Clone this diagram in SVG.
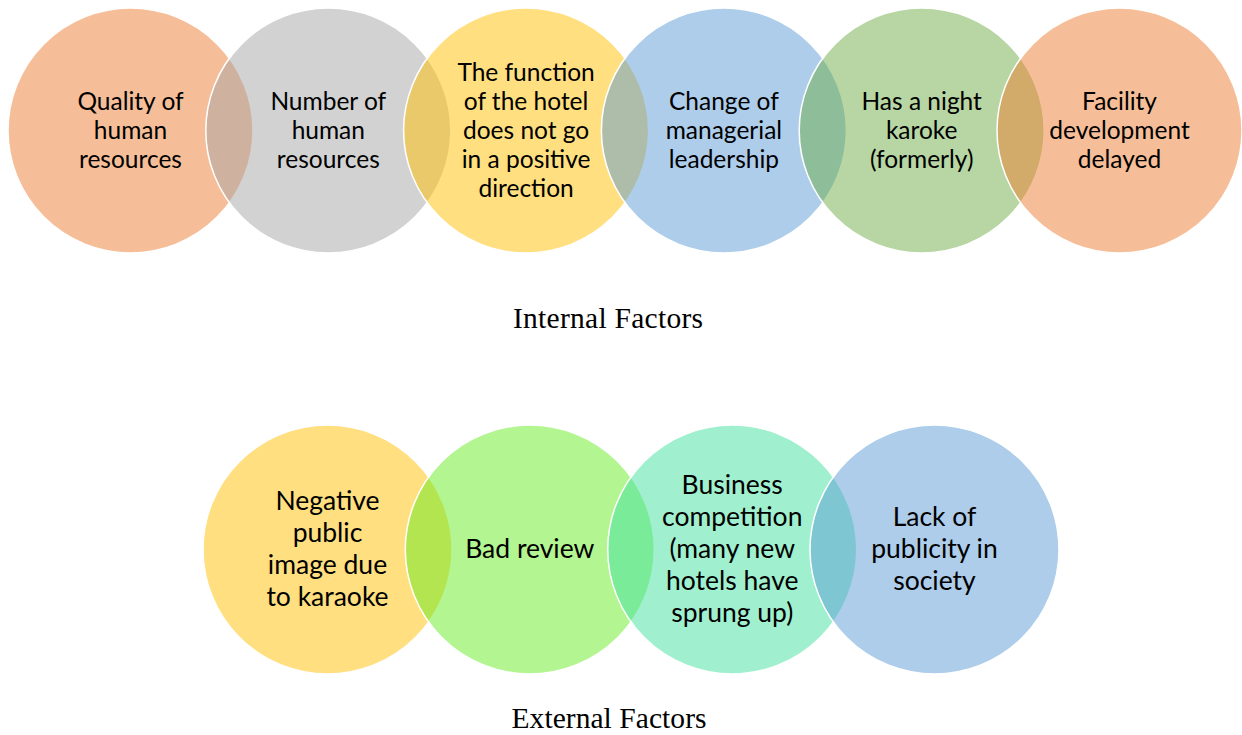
<svg xmlns="http://www.w3.org/2000/svg" width="1242" height="735" viewBox="0 0 1242 735">
  <style>
    .c { stroke: #FFFFFF; stroke-width: 1.5; fill-opacity: 0.5; }
    .t { font-family: Lato, "Liberation Sans", sans-serif; fill: #000000; text-anchor: middle; }
    .top { font-size: 24.5px; }
    .bot { font-size: 26.5px; }
    .cap { font-family: "Liberation Serif", "DejaVu Serif", serif; font-size: 29.5px; fill: #000000; text-anchor: middle; }
  </style>
  <rect width="1242" height="735" fill="#FFFFFF"/>

  <!-- Internal factors: overlapping row -->
  <g id="internal">
    <g id="quality">
      <circle class="c" cx="130.5" cy="130.5" r="122.5" fill="#ED7D31"/>
      <text class="t top"><tspan x="130.5" y="109.5">Quality of</tspan><tspan x="130.5" y="138.5">human</tspan><tspan x="130.5" y="167.5">resources</tspan></text>
    </g>
    <g id="number">
      <circle class="c" cx="328.3" cy="130.5" r="122.5" fill="#A5A5A5"/>
      <text class="t top"><tspan x="328.3" y="109.5">Number of</tspan><tspan x="328.3" y="138.5">human</tspan><tspan x="328.3" y="167.5">resources</tspan></text>
    </g>
    <g id="function">
      <circle class="c" cx="526.1" cy="130.5" r="122.5" fill="#FFC000"/>
      <text class="t top"><tspan x="526.1" y="80.5">The function</tspan><tspan x="526.1" y="109.5">of the hotel</tspan><tspan x="526.1" y="138.5">does not go</tspan><tspan x="526.1" y="167.5">in a positive</tspan><tspan x="526.1" y="196.5">direction</tspan></text>
    </g>
    <g id="leadership">
      <circle class="c" cx="723.9" cy="130.5" r="122.5" fill="#5B9BD5"/>
      <text class="t top"><tspan x="723.9" y="109.5">Change of</tspan><tspan x="723.9" y="138.5">managerial</tspan><tspan x="723.9" y="167.5">leadership</tspan></text>
    </g>
    <g id="karaoke">
      <circle class="c" cx="921.7" cy="130.5" r="122.5" fill="#70AD47"/>
      <text class="t top"><tspan x="921.7" y="109.5">Has a night</tspan><tspan x="921.7" y="138.5">karoke</tspan><tspan x="921.7" y="167.5">(formerly)</tspan></text>
    </g>
    <g id="facility">
      <circle class="c" cx="1119.5" cy="130.5" r="122.5" fill="#ED7D31"/>
      <text class="t top"><tspan x="1119.5" y="109.5">Facility</tspan><tspan x="1119.5" y="138.5">development</tspan><tspan x="1119.5" y="167.5">delayed</tspan></text>
    </g>
    <text id="internal-label" class="cap" x="608" y="328" textLength="190">Internal Factors</text>
  </g>

  <!-- External factors: overlapping row -->
  <g id="external">
    <g id="image">
      <circle class="c" cx="327.5" cy="549.5" r="124.5" fill="#FFC000"/>
      <text class="t bot"><tspan x="327.5" y="510">Negative</tspan><tspan x="327.5" y="542">public</tspan><tspan x="327.5" y="574">image due</tspan><tspan x="327.5" y="606">to karaoke</tspan></text>
    </g>
    <g id="review">
      <circle class="c" cx="529.8" cy="549.5" r="124.5" fill="#67EB21"/>
      <text class="t bot"><tspan x="529.8" y="558">Bad review</tspan></text>
    </g>
    <g id="competition">
      <circle class="c" cx="732.2" cy="549.5" r="124.5" fill="#41E19F"/>
      <text class="t bot"><tspan x="732.2" y="494">Business</tspan><tspan x="732.2" y="526">competition</tspan><tspan x="732.2" y="558">(many new</tspan><tspan x="732.2" y="590">hotels have</tspan><tspan x="732.2" y="622">sprung up)</tspan></text>
    </g>
    <g id="publicity">
      <circle class="c" cx="934.5" cy="549.5" r="124.5" fill="#5B9BD5"/>
      <text class="t bot"><tspan x="934.5" y="526">Lack of</tspan><tspan x="934.5" y="558">publicity in</tspan><tspan x="934.5" y="590">society</tspan></text>
    </g>
    <text id="external-label" class="cap" x="609" y="728" textLength="195">External Factors</text>
  </g>

  <!-- no connectors in this figure -->
  <g id="connectors"/>
</svg>
